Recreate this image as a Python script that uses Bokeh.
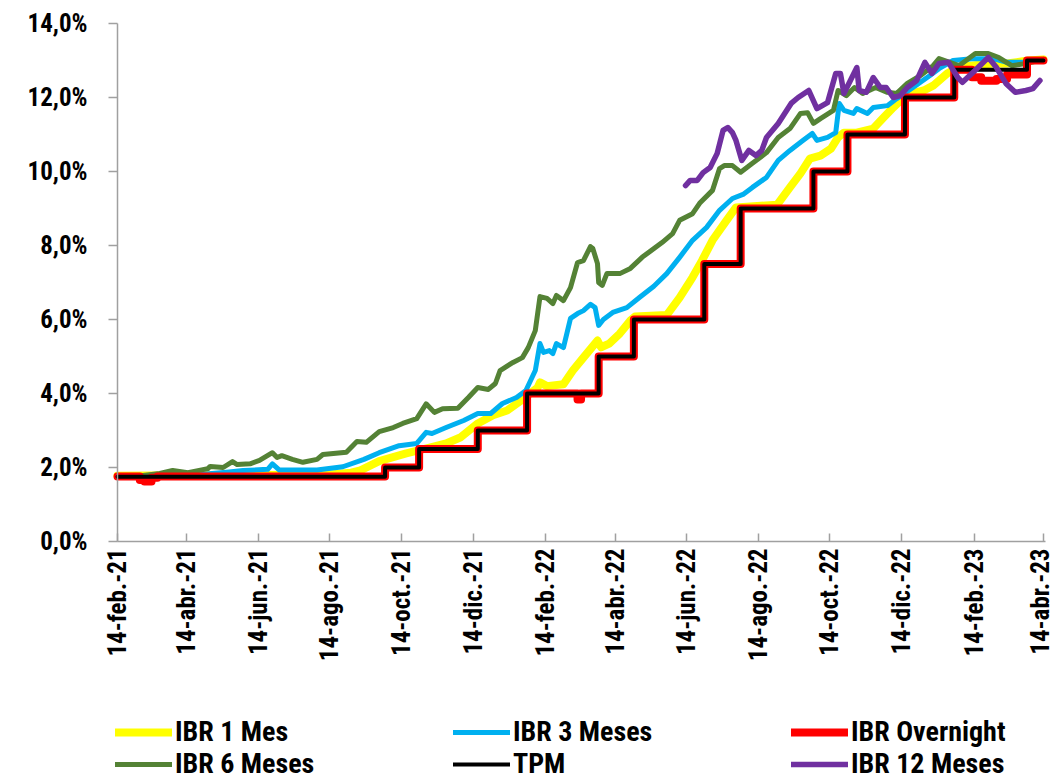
import pandas as pd
from math import pi
from bokeh.plotting import figure
from bokeh.models import (Range1d, FixedTicker, CustomJSTickFormatter, Legend,
                          LegendItem, ColumnDataSource)
from bokeh.core.properties import value
from bokeh.embed import file_html
from bokeh.resources import INLINE

# ---------------- data ----------------
ibr1m_dates = ["2021-02-14", "2021-04-15", "2021-06-15", "2021-08-14", "2021-09-01", "2021-09-09",
               "2021-09-25", "2021-10-18", "2021-11-07", "2021-11-21", "2021-12-03", "2021-12-18",
               "2021-12-31", "2022-01-12", "2022-01-26", "2022-02-07", "2022-02-09", "2022-02-15",
               "2022-03-01", "2022-03-09", "2022-03-18", "2022-03-30", "2022-04-02", "2022-04-09",
               "2022-04-18", "2022-04-27", "2022-05-01", "2022-05-28", "2022-06-08", "2022-06-19",
               "2022-06-27", "2022-07-06", "2022-07-18", "2022-07-26", "2022-08-30", "2022-09-10",
               "2022-09-19", "2022-09-27", "2022-10-06", "2022-10-15", "2022-10-21", "2022-10-26",
               "2022-11-06", "2022-11-20", "2022-11-28", "2022-12-07", "2022-12-15", "2022-12-23",
               "2023-01-02", "2023-01-10", "2023-01-22", "2023-01-31", "2023-02-10", "2023-03-02",
               "2023-03-14", "2023-04-01", "2023-04-14"]
ibr1m_vals = [1.78, 1.79, 1.80, 1.81, 1.86, 1.92,
              2.17, 2.38, 2.54, 2.65, 2.81, 3.19,
              3.41, 3.54, 3.86, 4.16, 4.30, 4.20,
              4.25, 4.62, 4.97, 5.43, 5.25, 5.35,
              5.62, 5.97, 6.08, 6.12, 6.59, 7.14,
              7.59, 8.14, 8.68, 9.03, 9.10, 9.57,
              9.95, 10.35, 10.43, 10.62, 10.92, 11.05,
              11.05, 11.16, 11.43, 11.73, 11.97, 12.11,
              12.19, 12.32, 12.65, 12.81, 12.86, 12.92,
              12.92, 13.00, 13.03]

ibr3m_dates = ["2021-02-14", "2021-04-26", "2021-05-20", "2021-06-01", "2021-06-22", "2021-06-26",
               "2021-07-02", "2021-08-03", "2021-08-25", "2021-09-12", "2021-09-25", "2021-10-12",
               "2021-10-27", "2021-11-04", "2021-11-09", "2021-11-21", "2021-12-06", "2021-12-18",
               "2021-12-29", "2022-01-08", "2022-01-20", "2022-01-28", "2022-02-05", "2022-02-09",
               "2022-02-12", "2022-02-17", "2022-02-20", "2022-02-23", "2022-03-01", "2022-03-07",
               "2022-03-13", "2022-03-18", "2022-03-24", "2022-03-28", "2022-03-31", "2022-04-04",
               "2022-04-12", "2022-04-24", "2022-05-05", "2022-05-17", "2022-05-28", "2022-06-08",
               "2022-06-19", "2022-07-01", "2022-07-12", "2022-07-23", "2022-08-01", "2022-08-09",
               "2022-08-21", "2022-08-31", "2022-09-10", "2022-09-21", "2022-09-29", "2022-10-03",
               "2022-10-12", "2022-10-19", "2022-10-22", "2022-10-26", "2022-11-03", "2022-11-06",
               "2022-11-15", "2022-11-20", "2022-12-02", "2022-12-10", "2022-12-18", "2022-12-26",
               "2023-01-07", "2023-01-15", "2023-01-27", "2023-02-12", "2023-03-02", "2023-03-14",
               "2023-03-27", "2023-04-05", "2023-04-14"]
ibr3m_vals = [1.76, 1.81, 1.88, 1.92, 1.95, 2.10,
              1.93, 1.93, 2.02, 2.22, 2.40, 2.59,
              2.65, 2.95, 2.92, 3.08, 3.27, 3.46,
              3.46, 3.73, 3.89, 4.08, 4.62, 5.35,
              5.11, 5.16, 5.08, 5.35, 5.24, 6.03,
              6.16, 6.24, 6.41, 6.32, 5.84, 6.00,
              6.19, 6.32, 6.60, 6.90, 7.24, 7.68,
              8.14, 8.49, 8.95, 9.27, 9.38, 9.57,
              9.84, 10.30, 10.57, 10.84, 11.03, 10.84,
              10.92, 11.05, 11.84, 11.65, 11.57, 11.70,
              11.57, 11.73, 11.78, 11.97, 12.14, 12.32,
              12.59, 12.78, 13.00, 13.05, 13.05, 12.95,
              12.95, 13.00, 13.03]

ibr6m_dates = ["2021-02-14", "2021-03-01", "2021-03-22", "2021-04-02", "2021-04-15", "2021-05-02",
               "2021-05-04", "2021-05-15", "2021-05-23", "2021-05-27", "2021-06-07", "2021-06-15",
               "2021-06-26", "2021-06-30", "2021-07-04", "2021-07-13", "2021-07-22", "2021-08-03",
               "2021-08-08", "2021-08-28", "2021-09-06", "2021-09-14", "2021-09-25", "2021-10-07",
               "2021-10-15", "2021-10-27", "2021-11-04", "2021-11-11", "2021-11-18", "2021-12-01",
               "2021-12-10", "2021-12-18", "2021-12-27", "2022-01-02", "2022-01-06", "2022-01-17",
               "2022-01-25", "2022-01-30", "2022-02-05", "2022-02-09", "2022-02-15", "2022-02-20",
               "2022-02-23", "2022-03-01", "2022-03-07", "2022-03-13", "2022-03-18", "2022-03-24",
               "2022-03-26", "2022-03-30", "2022-03-31", "2022-04-03", "2022-04-07", "2022-04-18",
               "2022-04-27", "2022-05-07", "2022-05-24", "2022-06-02", "2022-06-08", "2022-06-19",
               "2022-06-25", "2022-07-06", "2022-07-12", "2022-07-16", "2022-07-23", "2022-07-30",
               "2022-08-09", "2022-08-21", "2022-08-31", "2022-09-10", "2022-09-19", "2022-09-25",
               "2022-09-30", "2022-10-06", "2022-10-17", "2022-10-21", "2022-10-28", "2022-11-04",
               "2022-11-11", "2022-11-22", "2022-12-02", "2022-12-10", "2022-12-19", "2022-12-30",
               "2023-01-10", "2023-01-15", "2023-02-01", "2023-02-15", "2023-02-26", "2023-03-07",
               "2023-03-18", "2023-03-30", "2023-04-14"]
ibr6m_vals = [1.73, 1.76, 1.84, 1.92, 1.86, 1.97,
              2.03, 2.00, 2.16, 2.08, 2.10, 2.19,
              2.40, 2.27, 2.32, 2.22, 2.14, 2.22,
              2.35, 2.41, 2.70, 2.68, 2.97, 3.08,
              3.19, 3.32, 3.72, 3.49, 3.59, 3.60,
              3.89, 4.16, 4.11, 4.27, 4.62, 4.84,
              4.97, 5.24, 5.70, 6.62, 6.57, 6.43,
              6.65, 6.51, 6.86, 7.54, 7.59, 7.97,
              7.92, 7.51, 7.00, 6.92, 7.24, 7.24,
              7.38, 7.68, 8.08, 8.32, 8.68, 8.86,
              9.14, 9.49, 10.08, 10.16, 10.16, 9.98,
              10.22, 10.51, 10.92, 11.16, 11.57, 11.59,
              11.30, 11.43, 11.65, 12.19, 12.05, 12.27,
              12.11, 12.27, 12.14, 12.11, 12.38, 12.59,
              12.86, 13.05, 12.86, 13.19, 13.19, 13.08,
              12.86, 12.92, 13.03]

ibr12m_dates = ["2022-06-13", "2022-06-17", "2022-06-23", "2022-06-28", "2022-07-04", "2022-07-10",
                "2022-07-15", "2022-07-19", "2022-07-23", "2022-07-26", "2022-07-31", "2022-08-06",
                "2022-08-12", "2022-08-17", "2022-08-21", "2022-08-31", "2022-09-11", "2022-09-17",
                "2022-09-26", "2022-10-03", "2022-10-12", "2022-10-19", "2022-10-23", "2022-10-26",
                "2022-11-06", "2022-11-08", "2022-11-14", "2022-11-20", "2022-11-26", "2022-12-01",
                "2022-12-07", "2022-12-13", "2022-12-19", "2022-12-27", "2023-01-03", "2023-01-09",
                "2023-01-15", "2023-01-23", "2023-01-31", "2023-02-04", "2023-02-12", "2023-02-26",
                "2023-03-05", "2023-03-13", "2023-03-21", "2023-03-30", "2023-04-05", "2023-04-11"]
ibr12m_vals = [9.62, 9.76, 9.76, 9.97, 10.11, 10.49,
               11.11, 11.19, 11.05, 10.84, 10.30, 10.57,
               10.43, 10.57, 10.92, 11.30, 11.84, 12.00,
               12.19, 11.70, 11.86, 12.65, 12.65, 12.11,
               12.81, 12.19, 12.14, 12.54, 12.27, 12.27,
               12.00, 12.05, 12.27, 12.46, 12.95, 12.65,
               12.92, 12.95, 12.54, 12.41, 12.65, 13.08,
               12.81, 12.38, 12.14, 12.19, 12.24, 12.46]

tpm_dates = ["2021-02-14", "2021-09-30", "2021-10-29", "2021-12-18", "2022-01-29", "2022-03-31",
             "2022-04-30", "2022-06-29", "2022-07-30", "2022-09-30", "2022-10-29", "2022-12-17",
             "2023-01-28", "2023-03-31", "2023-04-14"]
tpm_vals = [1.75, 2.00, 2.50, 3.00, 4.00, 5.00,
            6.00, 7.50, 9.00, 10.00, 11.00, 12.00,
            12.75, 13.00, 13.00]

on_dates = ["2021-02-14", "2021-03-05", "2021-03-09", "2021-03-15", "2021-03-20", "2021-09-30",
            "2021-10-29", "2021-12-18", "2022-01-29", "2022-03-13", "2022-03-16", "2022-03-31",
            "2022-04-30", "2022-06-29", "2022-07-30", "2022-09-30", "2022-10-29", "2022-12-17",
            "2023-01-28", "2023-02-12", "2023-02-20", "2023-03-05", "2023-03-14", "2023-03-31",
            "2023-04-14"]
on_vals = [1.76, 1.66, 1.62, 1.72, 1.76, 2.00,
           2.50, 3.00, 4.00, 3.84, 4.00, 5.00,
           6.00, 7.50, 9.00, 10.00, 11.00, 12.00,
           12.75, 12.55, 12.45, 12.50, 12.62, 13.00,
           13.00]

tick_dates = ["2021-02-14", "2021-04-14", "2021-06-14", "2021-08-14", "2021-10-14", "2021-12-14",
              "2022-02-14", "2022-04-14", "2022-06-14", "2022-08-14", "2022-10-14", "2022-12-14",
              "2023-02-14", "2023-04-14"]
tick_labels = ["14-feb.-21", "14-abr.-21", "14-jun.-21", "14-ago.-21", "14-oct.-21", "14-dic.-21",
               "14-feb.-22", "14-abr.-22", "14-jun.-22", "14-ago.-22", "14-oct.-22", "14-dic.-22",
               "14-feb.-23", "14-abr.-23"]
y_ticks = [0, 2, 4, 6, 8, 10, 12, 14]
axis_start, axis_end = "2021-02-14 00:00", "2023-04-15 18:00"

# ---------------- layout ----------------
FONT = "'Liberation Sans Narrow', 'Arial Narrow', 'Roboto Condensed', sans-serif"
AX = "#A0A0A0"

W, H = 1054, 780
PX_LEFT, PX_RIGHT = 117, 1045     # pixel columns of the axis start / end
PX_TOP, PX_ZERO = 23, 541         # pixel rows of 14 % and of 0 %
Y_MAX = 14.0


def to_ms(d):
    t = pd.to_datetime(pd.Series(d), format="mixed")
    return [float(x) for x in (t - pd.Timestamp("1970-01-01")) // pd.Timedelta("1ms")]


ms_l, ms_r = to_ms([axis_start, axis_end])
x_scale = (PX_RIGHT - PX_LEFT) / (ms_r - ms_l)
y_scale = (PX_ZERO - PX_TOP) / Y_MAX
# the frame covers the whole canvas, so axis labels and legend are never clipped
x_range = Range1d(ms_l - PX_LEFT / x_scale, ms_r + (W - PX_RIGHT) / x_scale)
y_range = Range1d(-(H - PX_ZERO) / y_scale, Y_MAX + PX_TOP / y_scale)


def src(d, v):
    return ColumnDataSource(dict(x=pd.to_datetime(d), y=v))


p = figure(width=W, height=H, x_axis_type="datetime", output_backend="svg",
           toolbar_location=None, min_border=0, min_border_left=0, min_border_right=0,
           min_border_top=0, min_border_bottom=0, x_range=x_range, y_range=y_range)
p.outline_line_color = None
p.grid.visible = False
p.background_fill_color = "white"
p.border_fill_color = "white"

common = dict(line_join="round", line_cap="round")
r1 = p.line("x", "y", source=src(ibr1m_dates, ibr1m_vals), color="#FFFF00", line_width=8, **common)
r3 = p.line("x", "y", source=src(ibr3m_dates, ibr3m_vals), color="#00B0F0", line_width=5, **common)
r6 = p.line("x", "y", source=src(ibr6m_dates, ibr6m_vals), color="#548235", line_width=5, **common)
ron = p.step("x", "y", source=src(on_dates, on_vals), mode="after", color="#FF0000", line_width=8, **common)
rtpm = p.step("x", "y", source=src(tpm_dates, tpm_vals), mode="after", color="#000000", line_width=4, **common)
r12 = p.line("x", "y", source=src(ibr12m_dates, ibr12m_vals), color="#7030A0", line_width=5.5, **common)

# axes
for ax in (p.xaxis[0], p.yaxis[0]):
    ax.axis_line_color = AX
    ax.axis_line_width = 1.5
    ax.major_tick_line_color = AX
    ax.major_tick_line_width = 1.5
    ax.minor_tick_line_color = None
    ax.major_label_text_font = FONT
    ax.major_label_text_font_style = "bold"
    ax.major_label_text_color = "black"

p.yaxis.fixed_location = ms_l
p.yaxis.bounds = (0, Y_MAX)
p.yaxis.ticker = FixedTicker(ticks=y_ticks)
p.yaxis.formatter = CustomJSTickFormatter(code="return tick.toFixed(1).replace('.', ',') + '%';")
p.yaxis.major_tick_in = 0
p.yaxis.major_tick_out = 9
p.yaxis.major_label_standoff = 21
p.yaxis.major_label_text_font_size = "25px"

p.xaxis.fixed_location = 0
p.xaxis.bounds = (ms_l, ms_r)
p.xaxis.ticker = FixedTicker(ticks=to_ms(tick_dates))
p.xaxis.formatter = CustomJSTickFormatter(args=dict(tk_ms=to_ms(tick_dates), tk_labels=tick_labels), code="""
    for (let i = 0; i < tk_ms.length; i++) {
        if (Math.abs(tk_ms[i] - tick) < 43200000) { return tk_labels[i]; }
    }
    return "";
""")
p.xaxis.major_tick_in = 8
p.xaxis.major_tick_out = 0
p.xaxis.major_label_orientation = pi / 2
p.xaxis.major_label_standoff = 7
p.xaxis.major_label_text_font_size = "25px"

# legends (two rows of three), below the axis labels
leg_style = dict(orientation="horizontal", label_width=270, glyph_width=57, glyph_height=28,
                 label_standoff=3, spacing=8, padding=0, margin=0, border_line_color=None,
                 background_fill_alpha=0, label_text_font=FONT, label_text_font_style="bold",
                 label_text_font_size="28px", label_text_color="black", label_height=28)
leg1 = Legend(items=[LegendItem(label=value("IBR 1 Mes"), renderers=[r1]),
                     LegendItem(label=value("IBR 3 Meses"), renderers=[r3]),
                     LegendItem(label=value("IBR Overnight"), renderers=[ron])],
              location=(115, 32), **leg_style)
leg2 = Legend(items=[LegendItem(label=value("IBR 6 Meses"), renderers=[r6]),
                     LegendItem(label=value("TPM"), renderers=[rtpm]),
                     LegendItem(label=value("IBR 12 Meses"), renderers=[r12])],
              location=(115, 0), **leg_style)
p.add_layout(leg1, "center")
p.add_layout(leg2, "center")

open("out.html", "w").write(file_html(p, INLINE))
